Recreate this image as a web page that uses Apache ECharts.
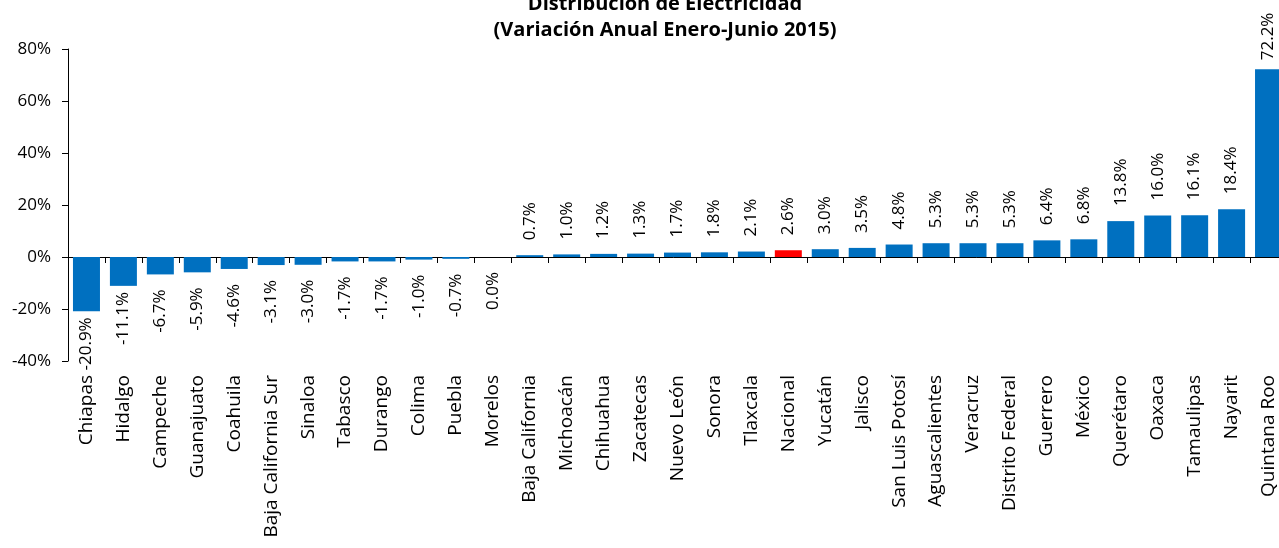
<!DOCTYPE html>
<html>
<head>
<meta charset="utf-8">
<script src="https://cdn.jsdelivr.net/npm/echarts@6/dist/echarts.min.js"></script>
<style>
  html, body { margin: 0; padding: 0; background: #fff; }
  #chart { width: 1279px; height: 548px; }
</style>
</head>
<body>
<div id="chart"></div>
<script>
var categories = ['Chiapas', 'Hidalgo', 'Campeche', 'Guanajuato', 'Coahuila', 'Baja California Sur',
  'Sinaloa', 'Tabasco', 'Durango', 'Colima', 'Puebla', 'Morelos', 'Baja California', 'Michoacán',
  'Chihuahua', 'Zacatecas', 'Nuevo León', 'Sonora', 'Tlaxcala', 'Nacional', 'Yucatán', 'Jalisco',
  'San Luis Potosí', 'Aguascalientes', 'Veracruz', 'Distrito Federal', 'Guerrero', 'México',
  'Querétaro', 'Oaxaca', 'Tamaulipas', 'Nayarit', 'Quintana Roo'];
var values = [-20.9, -11.1, -6.7, -5.9, -4.6, -3.1, -3.0, -1.7, -1.7, -1.0, -0.7, 0.0, 0.7, 1.0,
  1.2, 1.3, 1.7, 1.8, 2.1, 2.6, 3.0, 3.5, 4.8, 5.3, 5.3, 5.3, 6.4, 6.8, 13.8, 16.0, 16.1, 18.4, 72.2];
var yTicks = [-40, -20, 0, 20, 40, 60, 80];
var highlight = 'Nacional';

var FONT = '"Open Sans", "Noto Sans", sans-serif';
var BLUE = '#0070C0';
var RED = '#FF0000';

// a few labels sit closer to their bar in the original
var labelGap = { 'Chiapas': 6, 'Hidalgo': 6, 'Quintana Roo': 9 };

var barData = values.map(function (v, i) {
  var name = categories[i];
  var up = v > 0;
  return {
    value: v,
    itemStyle: { color: name === highlight ? RED : BLUE },
    label: {
      position: up ? 'top' : 'bottom',
      align: up ? 'left' : 'right',
      verticalAlign: 'middle',
      distance: labelGap[name] != null ? labelGap[name] : 15
    }
  };
});

var chart = echarts.init(document.getElementById('chart'));
chart.setOption({
  animation: false,
  title: {
    text: 'Distribución de Electricidad\n(Variación Anual Enero-Junio 2015)',
    left: 665,
    top: -9,
    padding: 0,
    textAlign: 'center',
    textStyle: { fontFamily: FONT, fontWeight: 'bold', fontSize: 20, lineHeight: 26, color: '#000' }
  },
  grid: { left: 68, top: 49, width: 1219, height: 312, containLabel: false, outerBoundsMode: 'none' },
  xAxis: {
    type: 'category',
    data: categories,
    axisLine: { onZero: true, lineStyle: { color: '#000', width: 1 } },
    axisTick: { show: true, interval: 0, length: 6, lineStyle: { color: '#000' } },
    axisLabel: { interval: 0, rotate: 90, margin: 14, fontFamily: FONT, fontSize: 19, color: '#000' }
  },
  yAxis: {
    type: 'value',
    min: yTicks[0],
    max: yTicks[yTicks.length - 1],
    interval: 20,
    axisLine: { show: true, lineStyle: { color: '#000', width: 1 } },
    axisTick: { show: true, length: 6, lineStyle: { color: '#000' } },
    splitLine: { show: false },
    axisLabel: { margin: 17, fontFamily: FONT, fontSize: 17, color: '#000', formatter: '{value}%' }
  },
  series: [{
    type: 'bar',
    barWidth: 27,
    data: barData,
    label: {
      show: true,
      rotate: 90,
      fontFamily: FONT,
      fontSize: 17,
      color: '#000',
      formatter: function (p) { return p.value.toFixed(1) + '%'; }
    }
  }]
});
</script>
</body>
</html>
